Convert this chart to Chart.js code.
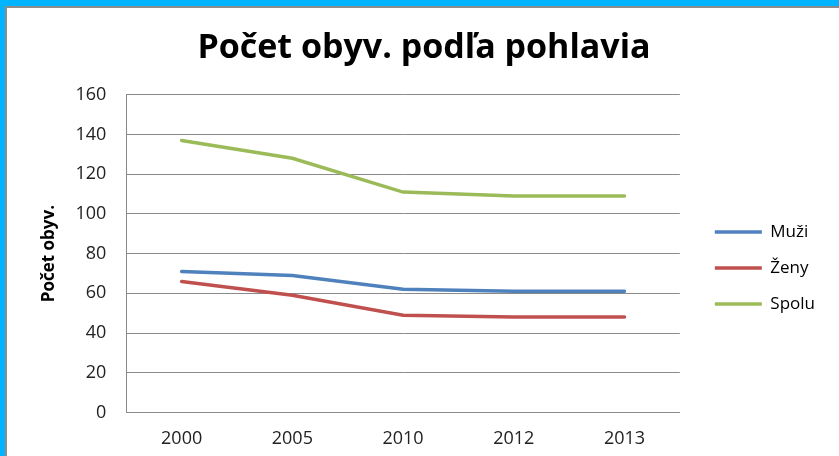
<!DOCTYPE html>
<html lang="sk">
  <head>
    <meta charset="UTF-8" />
    <title>Počet obyv. podľa pohlavia</title>
    <style>
      html, body { margin: 0; padding: 0; background: #fff; }
      body { width: 839px; height: 456px; position: relative; overflow: hidden; }
      .edge-top { position: absolute; left: 0; top: 0; width: 839px; height: 6px; background: #00b4ff; }
      .edge-top-line { position: absolute; left: 5px; top: 6px; width: 834px; height: 2px; background: #8c8c8c; }
      .edge-left { position: absolute; left: 0; top: 0; width: 5px; height: 456px; background: #00b4ff; }
      .edge-left-line { position: absolute; left: 5px; top: 6px; width: 2px; height: 450px; background: #8c8c8c; }
      #wrap { position: absolute; left: 7px; top: 8px; }
    </style>
  </head>
  <body>
    <div class="edge-top"></div>
    <div class="edge-left"></div>
    <div class="edge-top-line"></div>
    <div class="edge-left-line"></div>
    <div id="wrap">
      <canvas id="myChart" width="832" height="448"></canvas>
    </div>

    <script src="https://cdn.jsdelivr.net/npm/chart.js"></script>
    <script>
      const years = ["2000", "2005", "2010", "2012", "2013"];
      const muzi = [71, 69, 62, 61, 61];
      const zeny = [66, 59, 49, 48, 48];
      const spolu = [137, 128, 111, 109, 109];

      const gridColor = "#8a8a8a";
      const font = "Open Sans";

      function series(label, data, color) {
        return {
          label: label,
          data: data,
          borderColor: color,
          backgroundColor: color,
          pointBorderColor: color,
          pointBackgroundColor: color,
          pointBorderWidth: 3.5,
        };
      }

      // nudge the legend box (Excel puts it a bit further right / lower)
      const legendShift = {
        id: "legendShift",
        afterLayout(chart) {
          const lg = chart.legend;
          const dx = 16, dy = 31;
          lg.left += dx; lg.right += dx;
          lg.top += dy; lg.bottom += dy;
        },
      };

      const ctx = document.getElementById("myChart").getContext("2d");
      const chart = new Chart(ctx, {
        type: "line",
        data: {
          labels: years,
          datasets: [
            series("Muži", muzi, "#4f81bd"),
            series("Ženy", zeny, "#c0504d"),
            series("Spolu", spolu, "#9bbb59"),
          ],
        },
        options: {
          responsive: false,
          devicePixelRatio: 1,
          animation: false,
          elements: {
            line: { borderWidth: 3.5, tension: 0, borderCapStyle: "round" },
            point: { radius: 0, hoverRadius: 0 },
          },
          layout: { padding: { left: 32, right: 30, bottom: -10 } },
          plugins: {
            tooltip: { enabled: false },
            title: {
              display: true,
              text: "Počet obyv. podľa pohlavia",
              color: "#000",
              font: { family: font, size: 34, weight: "bold" },
              padding: { top: 20, bottom: 26 },
            },
            legend: {
              position: "right",
              align: "center",
              labels: {
                usePointStyle: true,
                pointStyle: "line",
                pointStyleWidth: 47,
                color: "#000",
                font: { family: font, size: 17 },
                padding: 19,
              },
            },
          },
          scales: {
            x: {
              offset: true,
              grid: { display: false, drawTicks: false },
              border: { display: true, color: gridColor, width: 1 },
              ticks: { color: "#222", font: { family: font, size: 18 }, padding: 16 },
            },
            y: {
              min: 0,
              max: 160,
              ticks: { stepSize: 20, color: "#222", font: { family: font, size: 18 }, padding: 20 },
              grid: { color: gridColor, lineWidth: 1, drawTicks: false },
              border: { display: true, color: gridColor, width: 1 },
              title: {
                display: true,
                text: "Počet obyv.",
                color: "#000",
                font: { family: font, size: 17, weight: "bold" },
                padding: { top: 0, bottom: -4 },
              },
            },
          },
        },
        plugins: [legendShift],
      });
    </script>
  </body>
</html>
